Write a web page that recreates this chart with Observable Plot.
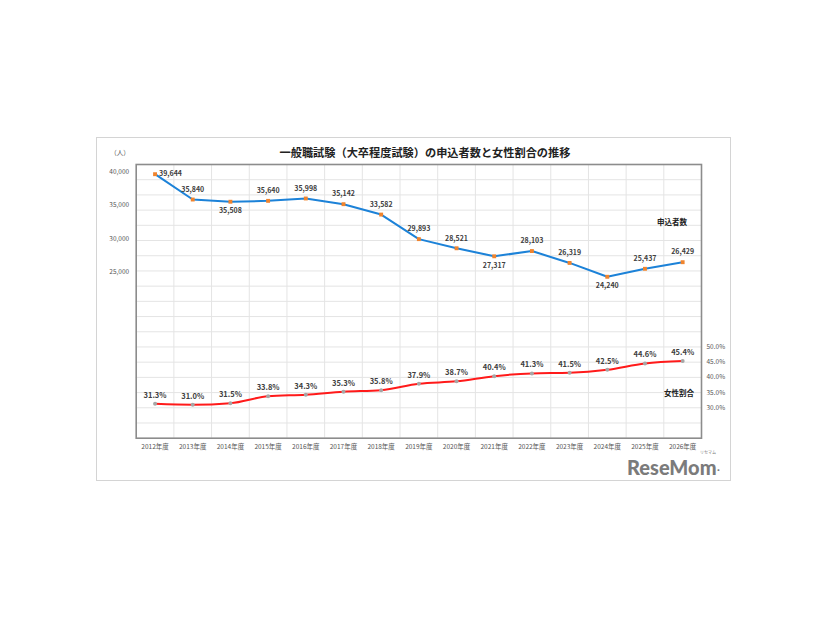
<!DOCTYPE html>
<html>
<head>
<meta charset="utf-8">
<script src="https://cdn.jsdelivr.net/npm/d3@7"></script>
<script src="https://cdn.jsdelivr.net/npm/@observablehq/plot@0.6"></script>
<style>
  html, body { margin: 0; padding: 0; background: #fff; }
  #wrap { position: relative; width: 826px; height: 620px; overflow: hidden; font-family: "Noto Sans CJK JP", "Noto Sans", sans-serif; }
  #wrap svg { position: absolute; left: 0; top: 0; }
  .abs { position: absolute; white-space: nowrap; line-height: 1; }
  #box { position: absolute; left: 96px; top: 137px; width: 633px; height: 342px; border: 1px solid #d4d4d4; }
</style>
</head>
<body>
<div id="wrap">
  <div id="box"></div>
</div>
<script>
const years = ["2012年度","2013年度","2014年度","2015年度","2016年度","2017年度","2018年度","2019年度","2020年度","2021年度","2022年度","2023年度","2024年度","2025年度","2026年度"];
const applicants = [39644, 35840, 35508, 35640, 35998, 35142, 33582, 29893, 28521, 27317, 28103, 26319, 24240, 25437, 26429];
const femaleShare = [31.3, 31.0, 31.5, 33.8, 34.3, 35.3, 35.8, 37.9, 38.7, 40.4, 41.3, 41.5, 42.5, 44.6, 45.4];
const leftTicks = [25000, 30000, 35000, 40000];
const rightTicks = [30, 35, 40, 45, 50];
const titleText = "一般職試験（大卒程度試験）の申込者数と女性割合の推移";
const unitText = "（人）";
const seriesNames = ["申込者数", "女性割合"];

// axis extents
const yMax = 41100;              // left axis: 0 .. yMax (people)
const pctMin = 20, pctMax = 110; // right axis range in %
const toY = p => (p - pctMin) / (pctMax - pctMin) * yMax;
const fromY = y => y / yMax * (pctMax - pctMin) + pctMin;

const rows = years.map((yr, i) => ({i, year: yr, applicants: applicants[i], share: femaleShare[i]}));
rows.forEach((d, i) => {
  if (i === 0) d.pos = "right";
  else if (i < rows.length - 1 && d.applicants < rows[i-1].applicants && d.applicants < rows[i+1].applicants) d.pos = "below";
  else d.pos = "above";
});

const fmt = d3.format(",");
const labelFont = "Noto Sans CJK JP";

const chart = Plot.plot({
  width: 826,
  height: 620,
  marginLeft: 135.7,
  marginRight: 125,
  marginTop: 164,
  marginBottom: 182.3,
  style: {fontFamily: labelFont, background: "transparent"},
  x: {type: "linear", domain: [-0.5, years.length - 0.5], axis: null},
  y: {domain: [0, yMax], axis: null},
  marks: [
    Plot.ruleY(d3.range(1, 18).map(k => k * yMax / 18), {stroke: "#e4e4e4", strokeWidth: 1}),
    Plot.ruleX(d3.range(0, years.length - 1).map(i => i + 0.5), {stroke: "#e4e4e4", strokeWidth: 1}),
    Plot.frame({stroke: "#8c8c8c", strokeWidth: 1.6}),
    Plot.axisY(leftTicks, {anchor: "left", tickSize: 0, tickPadding: 7, tickFormat: fmt, fontSize: 6.5, color: "#555", label: null}),
    Plot.axisY(rightTicks.map(toY), {anchor: "right", tickSize: 0, tickPadding: 5, tickFormat: v => fromY(v).toFixed(1) + "%", fontSize: 6.5, color: "#555", label: null}),
    Plot.axisX(d3.range(years.length), {anchor: "bottom", tickSize: 0, tickPadding: 6, tickFormat: i => years[i], fontSize: 6.5, color: "#555", label: null}),
    Plot.line(rows, {x: "i", y: "applicants", stroke: "#1c82d8", strokeWidth: 2}),
    Plot.dot(rows, {x: "i", y: "applicants", symbol: "square", r: 2.2, fill: "#f0842e", stroke: null}),
    Plot.line(rows, {x: "i", y: d => toY(d.share), stroke: "#ff1a1a", strokeWidth: 2, curve: "monotone-x"}),
    Plot.dot(rows, {x: "i", y: d => toY(d.share), r: 2, fill: "#a6a6a6", stroke: null}),
    Plot.text(rows.filter(d => d.pos === "above"), {x: "i", y: "applicants", text: d => fmt(d.applicants), dy: -10, fontSize: 7, fontWeight: "bold", fill: "#404040"}),
    Plot.text(rows.filter(d => d.pos === "below"), {x: "i", y: "applicants", text: d => fmt(d.applicants), dy: 9, fontSize: 7, fontWeight: "bold", fill: "#404040"}),
    Plot.text(rows.filter(d => d.pos === "right"), {x: "i", y: "applicants", text: d => fmt(d.applicants), dx: 4, textAnchor: "start", fontSize: 7, fontWeight: "bold", fill: "#404040"}),
    Plot.text(rows, {x: "i", y: d => toY(d.share), text: d => d.share.toFixed(1) + "%", dy: -8.5, fontSize: 7.5, fontWeight: "bold", fill: "#404040"})
  ]
});

const wrap = document.getElementById("wrap");
wrap.appendChild(chart);

function addText(txt, css) {
  const el = document.createElement("div");
  el.className = "abs";
  el.textContent = txt;
  Object.assign(el.style, css);
  wrap.appendChild(el);
  return el;
}
addText(titleText, {left: "425px", top: "152.7px", transform: "translate(-50%,-50%)", fontSize: "11.2px", fontWeight: "bold", color: "#222"});
addText(unitText, {left: "120px", top: "152px", transform: "translate(-50%,-50%)", fontSize: "6.5px", color: "#555"});
addText(seriesNames[0], {left: "672px", top: "222px", transform: "translate(-50%,-50%)", fontSize: "7.5px", fontWeight: "bold", color: "#222"});
addText(seriesNames[1], {left: "679px", top: "392.7px", transform: "translate(-50%,-50%)", fontSize: "7.5px", fontWeight: "bold", color: "#222"});
addText("ReseMom", {left: "627px", top: "457px", fontSize: "20px", fontWeight: "900", fontFamily: "Lato, 'Open Sans', sans-serif", color: "#7b7b7b", letterSpacing: "0px"});
addText(".", {left: "717px", top: "461px", fontSize: "12px", fontWeight: "900", fontFamily: "Lato, sans-serif", color: "#7b7b7b"});
addText("リセマム", {left: "700px", top: "450px", fontSize: "4px", color: "#7b7b7b"});
</script>
</body>
</html>
